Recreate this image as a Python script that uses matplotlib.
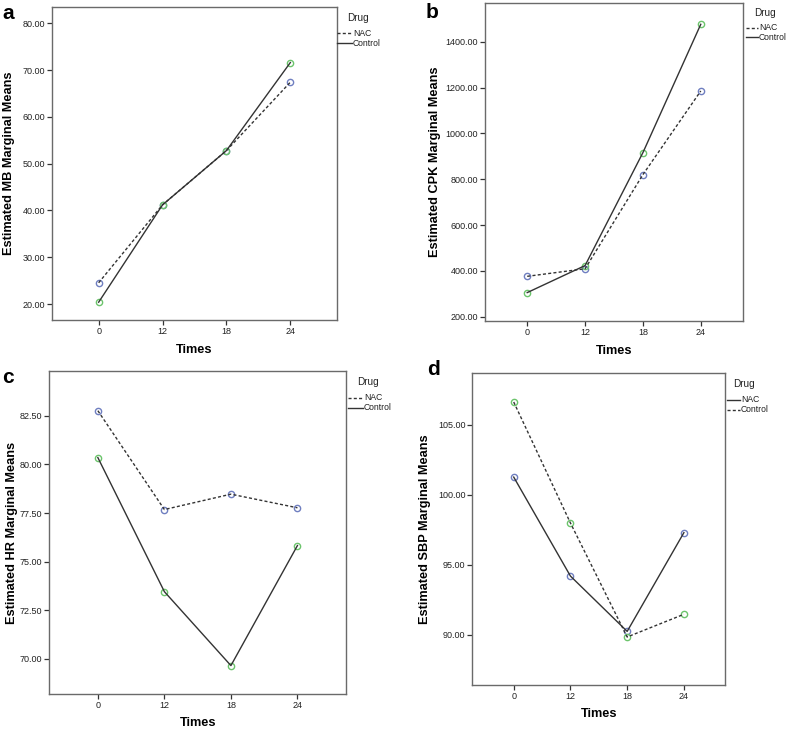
import matplotlib
matplotlib.use("Agg")
import matplotlib.pyplot as plt
from matplotlib.lines import Line2D
from matplotlib.ticker import FormatStrFormatter

times = ["0", "12", "18", "24"]

mb_nac = [24.55, 41.2, 52.8, 67.4]
mb_control = [20.4, 41.2, 52.8, 71.6]

cpk_nac = [376, 409, 820, 1185]
cpk_control = [305, 423, 916, 1476]

hr_nac = [82.76, 77.68, 78.47, 77.77]
hr_control = [80.35, 73.46, 69.66, 75.83]

sbp_nac = [101.26, 94.19, 90.24, 97.29]
sbp_control = [106.62, 97.98, 89.84, 91.46]

W, H = 787, 730
fig = plt.figure(figsize=(W / 100, H / 100), dpi=100)
plt.rcParams['font.family'] = ['Liberation Sans', 'DejaVu Sans']

BLUE = "#6f7fc0"
GREEN = "#6cc46c"
LINE = "#333333"
FRAME = "#6a6a6a"
DASH = (0, (2.2, 1.6))

def axes_px(l, r, t, b):
    return fig.add_axes([l / W, 1 - b / H, (r - l) / W, (b - t) / H])

def fx(px):
    return px / W

def fy(py):
    return 1 - py / H

panels = [
    dict(box=(52, 337, 7.3, 320), ylim=(16.6, 83.4), yticks=[20, 30, 40, 50, 60, 70, 80],
         nac=mb_nac, ctl=mb_control, nac_dash=True, label="Estimated MB Marginal Means",
         letter="a", lx=2, ly=4, lpad=5, xpad=6,
         leg=dict(tx=358, ty=18, l0=337, l1=352, y1=33, y2=43)),
    dict(box=(485, 743, 3, 321), ylim=(181, 1569), yticks=[200, 400, 600, 800, 1000, 1200, 1400],
         nac=cpk_nac, ctl=cpk_control, nac_dash=True, label="Estimated CPK Marginal Means",
         letter="b", lx=426, ly=3, lpad=3, xpad=6,
         leg=dict(tx=765, ty=13, l0=746, l1=758, y1=28, y2=37)),
    dict(box=(49.3, 346, 371, 694), ylim=(68.2, 84.8), yticks=[70, 72.5, 75, 77.5, 80, 82.5],
         nac=hr_nac, ctl=hr_control, nac_dash=True, label="Estimated HR Marginal Means",
         letter="c", lx=2, ly=368, lpad=1.5, xpad=5,
         leg=dict(tx=368, ty=382, l0=348, l1=363, y1=398, y2=408)),
    dict(box=(472.3, 725.3, 373.3, 685.3), ylim=(86.39, 108.67), yticks=[90, 95, 100, 105],
         nac=sbp_nac, ctl=sbp_control, nac_dash=False, label="Estimated SBP Marginal Means",
         letter="d", lx=427, ly=360, lpad=5, xpad=5,
         leg=dict(tx=744, ty=384, l0=727, l1=740, y1=400, y2=410)),
]

x = list(range(len(times)))

for p in panels:
    ax = axes_px(*p["box"])
    nac_ls = DASH if p["nac_dash"] else "-"
    ctl_ls = "-" if p["nac_dash"] else DASH
    ax.plot(x, p["nac"], linestyle="none", marker="o", ms=4.5, mfc="none", mec=BLUE, mew=1.0, zorder=2)
    ax.plot(x, p["ctl"], linestyle="none", marker="o", ms=4.5, mfc="none", mec=GREEN, mew=1.0, zorder=2)
    ax.plot(x, p["nac"], color=LINE, lw=1.0, linestyle=nac_ls, zorder=3)
    ax.plot(x, p["ctl"], color=LINE, lw=1.0, linestyle=ctl_ls, zorder=3)
    ax.set_xlim(-0.73, 3.73)
    ax.set_ylim(*p["ylim"])
    ax.set_xticks(x)
    ax.set_xticklabels(times)
    ax.set_yticks(p["yticks"])
    ax.yaxis.set_major_formatter(FormatStrFormatter("%.2f"))
    ax.tick_params(axis="both", labelsize=6.5, length=3.5, width=0.9, color="#333333",
                   labelcolor="#222222", pad=1.5)
    for s in ax.spines.values():
        s.set_color(FRAME)
        s.set_linewidth(1.0)
    ax.set_ylabel(p["label"], fontsize=9.2, fontweight="bold", labelpad=p["lpad"])
    ax.set_xlabel("Times", fontsize=9.2, fontweight="bold", labelpad=p["xpad"])

    lg = p["leg"]
    fig.text(fx(lg["tx"]), fy(lg["ty"]), "Drug", fontsize=7.2, ha="center", va="center",
             color="#222222")
    styles = [nac_ls, ctl_ls]
    for name, yy, ls in zip(["NAC", "Control"], [lg["y1"], lg["y2"]], styles):
        fig.add_artist(Line2D([fx(lg["l0"]), fx(lg["l1"])], [fy(yy), fy(yy)],
                              transform=fig.transFigure, color=LINE, lw=1.0, linestyle=ls))
        fig.text(fx(lg["l1"] + 1), fy(yy), name, fontsize=6.2, ha="left", va="center",
                 color="#222222")

    fig.text(fx(p["lx"]), fy(p["ly"]), p["letter"], fontsize=15, fontweight="bold",
             va="top", ha="left")

fig.savefig("out.png", dpi=100)
